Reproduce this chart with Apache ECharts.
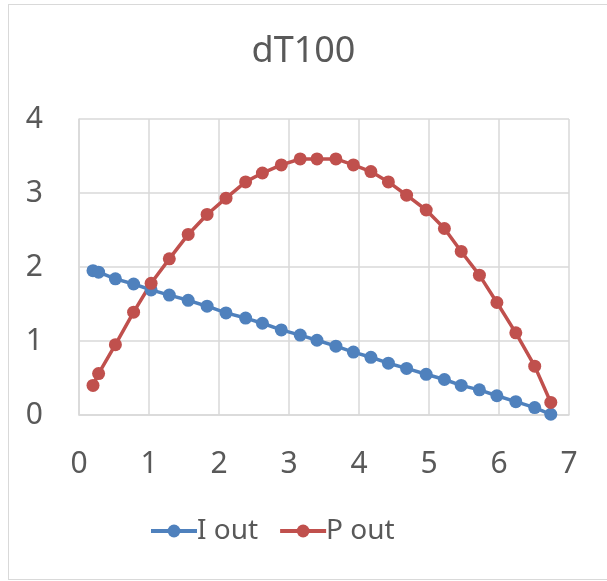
<!DOCTYPE html>
<html>
<head>
<meta charset="utf-8">
<script src="https://cdn.jsdelivr.net/npm/echarts@6/dist/echarts.min.js"></script>
<style>
  html, body { margin: 0; padding: 0; background: #fff; }
  #frame {
    position: absolute; left: 8px; top: 4px;
    width: 600px; height: 574px;
    border: 1px solid #d9d9d9; border-right: none;
  }
  #chart { position: absolute; left: 0; top: 0; width: 607px; height: 581px; }
</style>
</head>
<body>
<div id="frame"></div>
<div id="chart"></div>
<script>
// 数据
const xValues = [0.20, 0.28, 0.52, 0.78, 1.03, 1.29, 1.56, 1.83, 2.10, 2.38, 2.62, 2.89, 3.16, 3.40,
  3.67, 3.92, 4.17, 4.42, 4.68, 4.96, 5.22, 5.46, 5.72, 5.97, 6.24, 6.51, 6.74]
const iOut = [1.95, 1.93, 1.84, 1.77, 1.69, 1.62, 1.55, 1.47, 1.38, 1.31, 1.24, 1.15, 1.08, 1.01,
  0.93, 0.85, 0.78, 0.70, 0.63, 0.55, 0.48, 0.40, 0.34, 0.26, 0.18, 0.10, 0.01]
const pOut = [0.40, 0.56, 0.95, 1.39, 1.78, 2.11, 2.44, 2.71, 2.93, 3.15, 3.27, 3.38, 3.46, 3.46,
  3.46, 3.38, 3.29, 3.15, 2.97, 2.77, 2.52, 2.21, 1.89, 1.52, 1.11, 0.66, 0.17]
const seriesNames = ['I out', 'P out']
const titleText = 'dT100'

const blue = '#4f81bd'
const red = '#c0504d'
const textColor = '#595959'
const gridColor = '#d9d9d9'
const font = 'Noto Sans'

function pairs(ys) {
  return xValues.map((x, i) => [x, ys[i]])
}

const myChart = echarts.init(document.getElementById('chart'))

const option = {
  animation: false,
  title: {
    text: titleText,
    left: 'center',
    top: 29,
    textStyle: { fontFamily: font, fontSize: 36, fontWeight: 'normal', color: textColor }
  },
  legend: {
    data: seriesNames,
    left: 144,
    top: 512,
    itemWidth: 46,
    itemHeight: 16,
    itemGap: 20,
    lineStyle: { width: 4 },
    textStyle: { fontFamily: font, fontSize: 28, color: textColor, padding: [0, 0, 0, -5] }
  },
  grid: {
    left: 79,
    right: 38,
    top: 119,
    bottom: 166,
    containLabel: false
  },
  xAxis: {
    type: 'value',
    min: 0,
    max: 7,
    interval: 1,
    axisLine: { show: true, lineStyle: { color: gridColor, width: 1.5 } },
    axisTick: { show: false },
    splitLine: { show: true, lineStyle: { color: gridColor, width: 1.5 } },
    axisLabel: { fontFamily: font, fontSize: 30, color: textColor, margin: 34 }
  },
  yAxis: {
    type: 'value',
    min: 0,
    max: 4,
    interval: 1,
    axisLine: { show: true, lineStyle: { color: gridColor, width: 1.5 } },
    axisTick: { show: false },
    splitLine: { show: true, lineStyle: { color: gridColor, width: 1.5 } },
    axisLabel: { fontFamily: font, fontSize: 30, color: textColor, margin: 36 }
  },
  series: [
    {
      name: seriesNames[0],
      type: 'line',
      data: pairs(iOut),
      symbol: 'circle',
      symbolSize: 13,
      color: blue,
      lineStyle: { color: blue, width: 3.5 },
      itemStyle: { color: blue }
    },
    {
      name: seriesNames[1],
      type: 'line',
      data: pairs(pOut),
      symbol: 'circle',
      symbolSize: 13,
      color: red,
      lineStyle: { color: red, width: 3.5 },
      itemStyle: { color: red }
    }
  ]
}

myChart.setOption(option)
</script>
</body>
</html>
